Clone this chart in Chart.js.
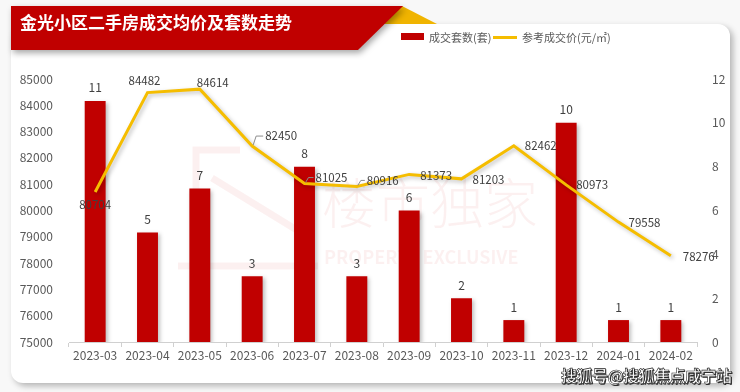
<!DOCTYPE html>
<html>
<head>
<meta charset="utf-8">
<script src="https://cdn.jsdelivr.net/npm/chart.js@4"></script>
<style>
  body { margin: 0; width: 740px; height: 392px; background: #f8f8f8; position: relative; overflow: hidden;
         font-family: "Noto Sans CJK SC", "Noto Sans", sans-serif; }
  .card { position: absolute; left: 11px; top: 24px; width: 719px; height: 359px; background: #fff;
          border-radius: 12px; box-shadow: 3px 3px 6px rgba(0,0,0,0.28); }
  .fold { position: absolute; left: 0; top: 0; width: 740px; height: 60px; background: linear-gradient(90deg, #c98a00 0%, #f0b400 40%);
          clip-path: polygon(402px 6px, 437px 24px, 384px 24px); }
  .bannerWrap { position: absolute; left: 0; top: 0; filter: drop-shadow(2px 3px 3px rgba(0,0,0,0.35)); }
  .banner { position: absolute; left: 11px; top: 6px; width: 392px; height: 44px; background: #c00000;
            clip-path: polygon(0 0, 392px 0, 347px 44px, 0 44px); }
  .title { position: absolute; left: 20px; top: 10px; color: #fff; font-size: 17px; font-weight: bold; line-height: 24px; }
  .legend { position: absolute; top: 28px; left: 401px; height: 18px; font-size: 11px; color: #595959; line-height: 18px; }
  .legend span { position: absolute; white-space: nowrap; }
  canvas { position: absolute; left: 0; top: 0; }
  .footer { position: absolute; left: 561px; top: 363px; font-size: 16px; font-weight: bold; color: #fff; white-space: nowrap;
            -webkit-text-stroke: 0.6px #222; text-shadow: 1px 1px 0 #333; letter-spacing: -0.5px; }
</style>
</head>
<body>
<div class="card"></div>
<canvas id="chart" width="740" height="392"></canvas>
<div class="fold"></div>
<div class="bannerWrap"><div class="banner"></div></div>
<div class="title">金光小区二手房成交均价及套数走势</div>
<div class="legend">
  <span style="left:0;top:5px;width:23px;height:7px;background:#c00000"></span>
  <span style="left:28px;top:0">成交套数(套)</span>
  <span style="left:92px;top:8px;width:24px;height:3px;background:#f5bd00"></span>
  <span style="left:121px;top:0">参考成交价(元/㎡)</span>
</div>
<div class="footer">搜狐号@搜狐焦点咸宁站</div>
<script>
const months = ['2023-03', '2023-04', '2023-05', '2023-06', '2023-07', '2023-08',
                '2023-09', '2023-10', '2023-11', '2023-12', '2024-01', '2024-02'];
const dealCount = [11, 5, 7, 3, 8, 3, 6, 2, 1, 10, 1, 1];
const refPrice = [80704, 84482, 84614, 82450, 81025, 80916, 81373, 81203, 82462, 80973, 79558, 78276];
const priceTicks = [75000, 85000, 1000];   // min, max, step
const countTicks = [0, 12, 2];

const fontFamily = '"Noto Sans CJK SC", "Noto Sans", sans-serif';

// where each price label sits relative to its point: dx, dy, align, leader line
const priceLabelPos = [
    [0, 13, 'center', false], [-3, -12, 'center', false], [-3, -7, 'left', false], [13, -10, 'left', true],
    [11, -6, 'left', true], [10, -6, 'left', true], [11, 1, 'left', false], [11, 1, 'left', false],
    [11, 0, 'left', false], [10, 0, 'left', false], [10, 1, 'left', false], [12, 1, 'left', false]
];

// faint watermark behind the marks
const watermark = {
    id: 'watermark',
    beforeDatasetsDraw(chart) {
        const ctx = chart.ctx;
        ctx.save();
        ctx.strokeStyle = 'rgba(200, 0, 0, 0.06)';
        ctx.lineWidth = 7;
        ctx.beginPath();
        ctx.moveTo(196, 262); ctx.lineTo(196, 150); ctx.lineTo(240, 150);
        ctx.moveTo(212, 178); ctx.lineTo(300, 232); ctx.lineTo(300, 262);
        ctx.moveTo(178, 266); ctx.lineTo(318, 266);
        ctx.stroke();
        ctx.fillStyle = 'rgba(200, 0, 0, 0.06)';
        ctx.textAlign = 'left';
        ctx.textBaseline = 'middle';
        ctx.font = '300 54px ' + fontFamily;
        ctx.fillText('楼市独家', 322, 203);
        ctx.font = 'bold 18px ' + fontFamily;
        ctx.fillText('PROPERTY EXCLUSIVE', 324, 257);
        ctx.restore();
    }
};

// soft shadow under bars and line
const shadow = {
    id: 'shadow',
    beforeDatasetDraw(chart) {
        const ctx = chart.ctx;
        ctx.save();
        ctx.shadowColor = 'rgba(0, 0, 0, 0.25)';
        ctx.shadowBlur = 4;
        ctx.shadowOffsetX = 2;
        ctx.shadowOffsetY = 2;
    },
    afterDatasetDraw(chart) {
        chart.ctx.restore();
    }
};

// value labels
const valueLabels = {
    id: 'valueLabels',
    afterDatasetsDraw(chart) {
        const ctx = chart.ctx;
        ctx.save();
        ctx.fillStyle = '#404040';
        ctx.textBaseline = 'middle';
        ctx.font = '12px ' + fontFamily;
        ctx.textAlign = 'center';
        chart.getDatasetMeta(1).data.forEach((bar, i) => {
            ctx.fillText(dealCount[i], bar.x, bar.y - 13);
        });
        ctx.font = '11.5px ' + fontFamily;
        chart.getDatasetMeta(0).data.forEach((pt, i) => {
            const [dx, dy, align, leader] = priceLabelPos[i];
            if (leader) {
                ctx.strokeStyle = '#8c8c8c';
                ctx.lineWidth = 1;
                ctx.beginPath();
                ctx.moveTo(pt.x + 1, pt.y - 1);
                ctx.lineTo(pt.x + 4, pt.y + dy);
                ctx.lineTo(pt.x + dx - 2, pt.y + dy);
                ctx.stroke();
            }
            ctx.textAlign = align;
            ctx.fillText(refPrice[i], pt.x + dx, pt.y + dy);
        });
        ctx.restore();
    }
};

const ctx = document.getElementById('chart').getContext('2d');
const chart = new Chart(ctx, {
    type: 'bar',
    data: {
        labels: months,
        datasets: [{
            type: 'line',
            label: '参考成交价(元/㎡)',
            data: refPrice,
            yAxisID: 'yPrice',
            borderColor: '#f5bd00',
            borderWidth: 3,
            pointRadius: 0,
            tension: 0,
            fill: false,
            order: 0
        }, {
            type: 'bar',
            label: '成交套数(套)',
            data: dealCount,
            yAxisID: 'yCount',
            backgroundColor: '#c00000',
            barPercentage: 0.4,
            categoryPercentage: 1,
            order: 1
        }]
    },
    options: {
        responsive: false,
        animation: false,
        layout: { padding: { top: 79, left: 0, right: 0, bottom: 0 } },
        plugins: {
            legend: { display: false },
            tooltip: { enabled: false }
        },
        scales: {
            x: {
                grid: { display: true, drawOnChartArea: false, drawTicks: true, tickLength: 5, color: '#d0d0d0', offset: true },
                border: { display: true, color: '#d0d0d0' },
                ticks: { color: '#595959', font: { size: 12, family: fontFamily }, padding: 1, maxRotation: 0 },
                afterFit(s) { s.height = 50; }
            },
            yPrice: {
                position: 'left',
                min: priceTicks[0],
                max: priceTicks[1],
                ticks: { stepSize: priceTicks[2], color: '#595959', font: { size: 12, family: fontFamily }, padding: 8,
                         callback: v => String(v) },
                grid: { display: false },
                border: { display: false },
                afterFit(s) { s.width = 69; }
            },
            yCount: {
                position: 'right',
                min: countTicks[0],
                max: countTicks[1],
                ticks: { stepSize: countTicks[2], color: '#595959', font: { size: 12, family: fontFamily }, padding: 7 },
                grid: { display: false },
                border: { display: false },
                afterFit(s) { s.width = 43; }
            }
        }
    },
    plugins: [watermark, shadow, valueLabels]
});
</script>
</body>
</html>
